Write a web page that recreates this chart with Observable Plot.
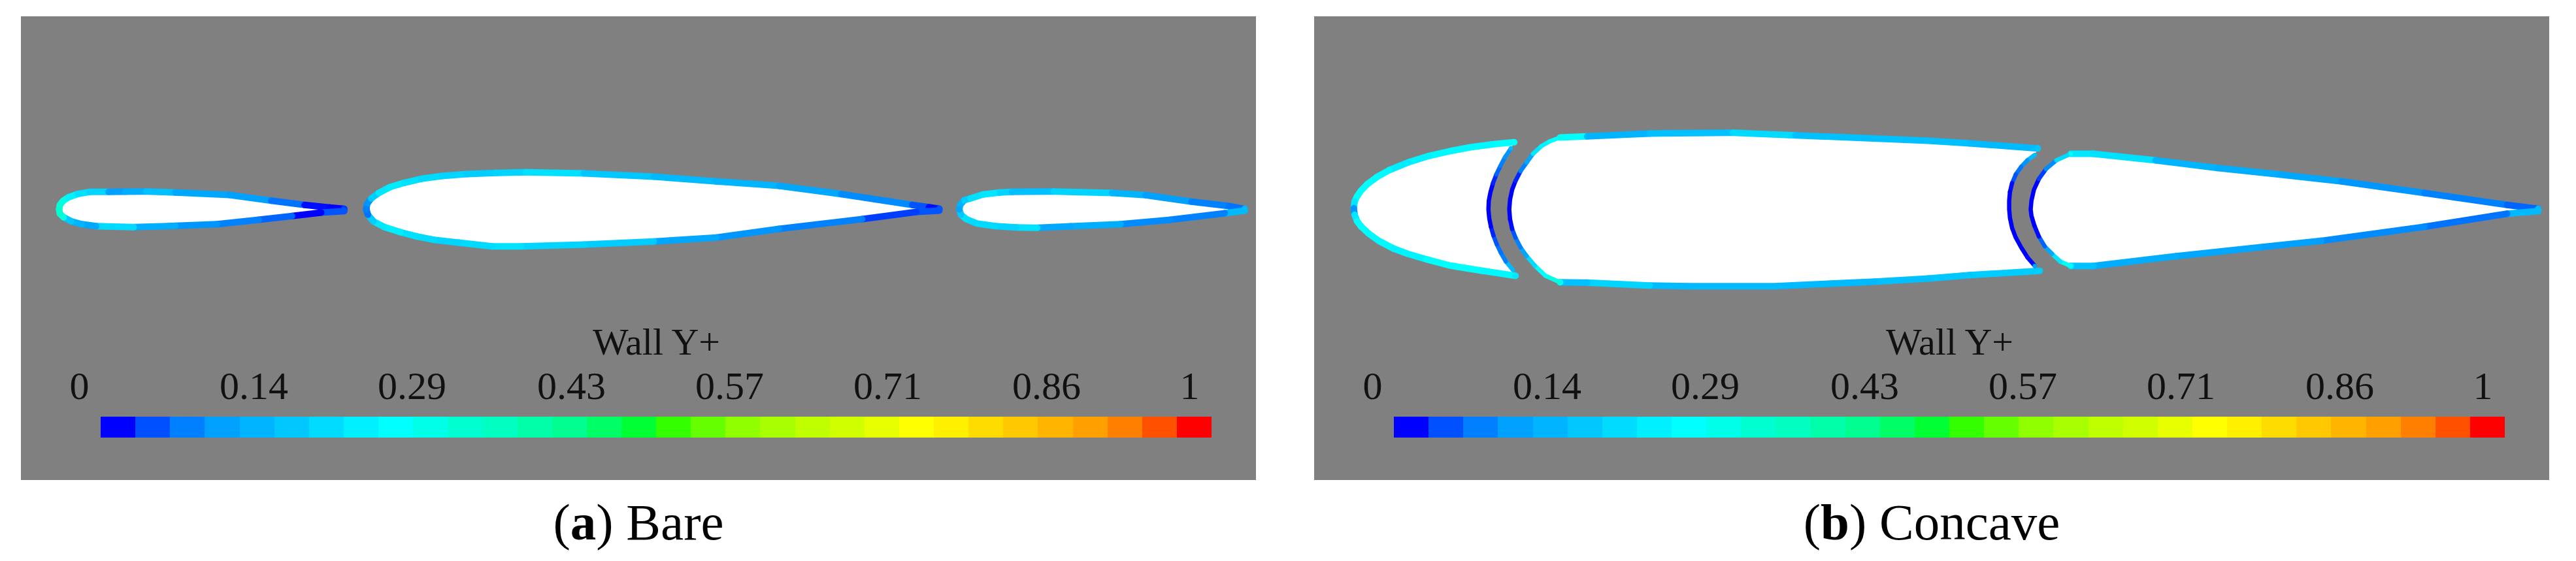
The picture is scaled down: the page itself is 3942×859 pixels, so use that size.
<!DOCTYPE html>
<html>
<head>
<meta charset="utf-8">
<script src="https://cdn.jsdelivr.net/npm/d3@7"></script>
<script src="https://cdn.jsdelivr.net/npm/@observablehq/plot@0.6"></script>
<style>
html,body{margin:0;padding:0;background:#fff;overflow:hidden;}
#row{display:flex;gap:89px;padding:25px 0 0 32px;}
.col{width:1890px;}
.col svg{display:block;}
.cap{font-family:"Liberation Serif",serif;font-size:79px;line-height:100px;margin-top:15px;text-align:center;color:#000;}
</style>
</head>
<body>
<div id="row"></div>
<script>
// Wall Y+ legend
const legendTitle = "Wall Y+";
const tickLabels = ["0","0.14","0.29","0.43","0.57","0.71","0.86","1"];
const tickLabelPos = [89,356,598,842,1084,1326,1569,1788];
const bandCount = 32;
const bandStart = 122, bandLength = 1700;
const paletteStops = ["#0000ff","#0050ff","#0080ff","#00a0ff","#00b4ff","#00c8ff","#00dcff","#00f0ff","#00ffff","#00ffe8","#00ffd0","#00ffc0","#00ffa8","#00ff90","#00ff66","#00ff33","#33ff00","#66ff00","#90ff00","#a8ff00","#c0ff00","#d0ff00","#e8ff00","#ffff00","#fff000","#ffdc00","#ffc800","#ffb400","#ffa000","#ff8000","#ff5000","#ff0000"];

// Surface outlines: [chordwise position, normal position, Wall Y+]
const bareSlat = [[57.9,295,.33],[59.2,288.3,.32],[63.7,282.3,.30],[72,276.7,.24],[86,271.7,.21],[105.1,268.3,.19],[133.8,268.3,.11],[159.3,268,.13],[191.2,267.7,.16],[235.9,269.3,.12],[318.8,273,.11],[382.5,281.7,.07],[433.6,288.3,.02],[471.8,292.3,.01],[494.1,294.3,.04],[494.1,297.7,.05],[459.1,300,.01],[414.4,305.3,.06],[363.4,311,.08],[299.6,317.7,.10],[235.9,320.3,.13],[172.1,322.3,.20],[114.7,320.7,.12],[92.4,317.7,.14],[76.4,313.3,.17],[64.9,307.3,.30],[59.2,301.7,.33],[57.9,295,.33]];
const bareMain = [[528,295,.08],[529.2,286.7,.10],[535.6,278.3,.18],[547.1,270,.22],[564.3,261,.23],[586.6,254.3,.21],[612.1,248.3,.20],[644,244,.19],[682.3,241,.18],[726.9,239.3,.19],[771.6,238.3,.21],[860.9,240,.17],[968,245,.15],[1063.7,252.3,.14],[1159.3,259,.12],[1255,271.7,.09],[1363.4,288.3,.05],[1388.9,291.7,.02],[1404.9,294.3,.05],[1404.9,297,.05],[1369.8,299,.04],[1286.9,310,.08],[1159.3,325,.10],[1063.7,338.3,.12],[968,344.3,.18],[860.9,349,.19],[765.2,351.7,.21],[720.6,351.7,.20],[669.5,346,.19],[631.3,341.7,.20],[605.8,336.7,.21],[580.2,330,.23],[554.7,321.7,.22],[538.8,313.3,.18],[530.5,303.3,.07],[528,295,.08]];
const bareFlap = [[1435.5,295,.12],[1436.8,288.3,.14],[1443.1,281,.18],[1452.7,278.3,.21],[1471.8,272.3,.22],[1497.3,269.3,.19],[1516.5,268.3,.16],[1580.2,267.7,.19],[1669.5,270,.14],[1720.6,273.3,.11],[1790.7,283.3,.08],[1848.1,290,.07],[1872.3,294.3,.15],[1872.3,297,.15],[1841.7,301,.08],[1758.8,311,.09],[1682.3,317.7,.13],[1605.8,321,.12],[1554.7,323.3,.21],[1522.9,322.7,.19],[1491,320.7,.20],[1462.3,316.7,.20],[1446.3,310,.21],[1438,303.3,.17],[1435.5,295,.12]];

const concaveSlatSkin = [[305.7,192.3,.27],[270.6,195.7,.25],[238.7,200,.25],[206.9,206,.25],[175,213.3,.24],[143.1,223.3,.23],[114.4,235,.25],[95.3,245.7,.26],[80.6,256.7,.27],[71,266.7,.27],[65.3,275,.26],[61.4,283.3,.22],[60.2,293.3,.10],[61.4,303.3,.22],[65.3,313.3,.26],[71.7,321.7,.27],[82.5,331.7,.25],[98.4,343.3,.25],[120.8,355,.24],[143.1,363.3,.24],[171.8,371.7,.27],[206.9,381,.27],[257.9,389.3,.25],[307.6,396.7,.22]];
const concaveSlatCove = [[303.8,388.3,.15],[293,375,.08],[285.3,361.7,.07],[278.9,348.3,.05],[273.8,335,.03],[270,321.7,.01],[267.4,308.3,.005],[266.2,295,.005],[266.8,281.7,.005],[269.4,268.3,.01],[273.2,255,.03],[278.3,241.7,.06],[284.7,228.3,.08],[291.7,215,.10],[300.6,201.7,.15]];
const concaveMainTop = [[375.9,185,.27],[417.3,183.3,.14],[513,179,.16],[640.5,177.7,.20],[736.2,181.7,.16],[939,190,.16],[1002.3,194,.15],[1106.7,201.7,.17]];
const concaveMainCove = [[1102.3,211.7,.15],[1090.9,220,.10],[1081.4,230,.07],[1073.2,241.7,.05],[1067.5,255,.02],[1064.3,268.3,.01],[1063.1,281.7,.005],[1063.1,295,.005],[1064.3,308.3,.005],[1067.5,323.3,.01],[1073.2,338.3,.01],[1081.4,353.3,.01],[1090.9,368.3,.02],[1102.3,381.7,.12]];
const concaveMainBottom = [[1109.9,389.3,.18],[1002.3,395.7,.17],[939,401,.16],[857.4,405.7,.15],[704.3,412.7,.15],[576.8,412.7,.15],[513,411.7,.19],[417.3,407.3,.16],[375.9,406.7,.27]];
const concaveMainNose = [[375.9,406.7,.30],[353.5,396.7,.27],[337.6,381.7,.20],[324.8,366.7,.12],[315.3,353.3,.08],[307.6,338.3,.05],[302.5,325,.02],[299.3,310,.005],[298.1,295,.005],[299.3,280,.005],[302.5,265,.01],[307.6,251.7,.03],[315.3,236.7,.08],[324.8,223.3,.12],[334.4,210,.22],[347.2,198.3,.24],[359.9,191,.27],[375.9,185,.30]];
const concaveFlapSkin = [[1157.4,210,.22],[1192.2,210,.21],[1287.1,220,.14],[1382,231.7,.13],[1477,241.7,.12],[1571.9,252.3,.10],[1698.5,270,.08],[1825.1,288.3,.06],[1872.6,294.3,.15],[1872.6,297.7,.15],[1825.1,301.7,.07],[1698.5,321.7,.09],[1540.3,343.3,.11],[1445.3,353.3,.12],[1318.7,366.7,.13],[1192.2,381.7,.16],[1157.4,381.7,.22]];
const concaveFlapNose = [[1157.4,381.7,.27],[1141.5,375,.22],[1128.9,363.3,.12],[1117.5,351.7,.06],[1108.6,336.7,.02],[1101.7,320,.01],[1097.2,305,.005],[1096,295,.005],[1097.2,281.7,.005],[1101,265,.01],[1108.6,248.3,.04],[1119.4,233.3,.09],[1135.2,220,.20],[1157.4,210,.27]];

const rows = (pts) => pts.map(([x,y,v]) => ({x,y,v}));
const bands = d3.range(bandCount).map(i => ({
  x1: bandStart + bandLength*i/bandCount,
  x2: bandStart + bandLength*(i+1)/bandCount,
  v: (i+.5)/bandCount
}));
const ticks = tickLabels.map((t,i) => ({t, x: tickLabelPos[i]}));

function panel(fills, skins, coves) {
  const marks = [];
  fills.forEach(f => marks.push(Plot.line(rows(f), {x:"x",y:"y",fill:"white",stroke:"none"})));
  skins.forEach(s => marks.push(Plot.line(rows(s), {x:"x",y:"y",stroke:"v",z:null,strokeWidth:10})));
  coves.forEach(s => marks.push(Plot.line(rows(s), {x:"x",y:"y",stroke:"v",z:null,strokeWidth:6.5})));
  marks.push(Plot.rect(bands, {x1:"x1",x2:"x2",y1:()=>613,y2:()=>645,fill:"v",shapeRendering:"crispEdges"}));
  marks.push(Plot.text(ticks, {x:"x",y:()=>585,text:"t",lineAnchor:"bottom",textAnchor:"middle",fontFamily:"Liberation Serif",fontSize:60,fill:"#111"}));
  marks.push(Plot.text([legendTitle], {x:()=>972,y:()=>517,text:d=>d,lineAnchor:"bottom",textAnchor:"middle",fontFamily:"Liberation Serif",fontSize:58,fill:"#111"}));
  return Plot.plot({
    width:1890, height:710, margin:0,
    style:{background:"#808080"},
    x:{domain:[0,1890],range:[0,1890],axis:null},
    y:{domain:[0,710],range:[0,710],axis:null},
    color:{type:"linear",domain:bands.map(b=>b.v),range:paletteStops,clamp:true},
    marks
  });
}

const concaveSlatFill = concaveSlatSkin.concat(concaveSlatCove);
const concaveMainFill = concaveMainTop.concat(concaveMainCove, concaveMainBottom, concaveMainNose);
const concaveFlapFill = concaveFlapSkin.concat(concaveFlapNose);

const panels = [
  {svg: panel([bareSlat,bareMain,bareFlap],[bareSlat,bareMain,bareFlap],[]), letter:"a", label:"Bare"},
  {svg: panel([concaveSlatFill,concaveMainFill,concaveFlapFill],[concaveSlatSkin,concaveMainTop,concaveMainBottom,concaveFlapSkin],[concaveSlatCove,concaveMainCove,concaveMainNose,concaveFlapNose]), letter:"b", label:"Concave"}
];
const row = document.getElementById("row");
panels.forEach(p => {
  const col = document.createElement("div"); col.className="col";
  col.appendChild(p.svg);
  const cap = document.createElement("div"); cap.className="cap";
  cap.innerHTML = "(<b>"+p.letter+"</b>) "+p.label;
  col.appendChild(cap);
  row.appendChild(col);
});
</script>
</body>
</html>
